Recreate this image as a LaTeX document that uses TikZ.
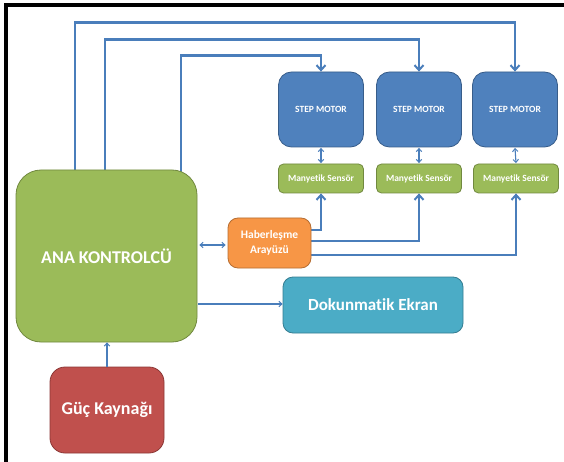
\documentclass[tikz,border=0pt]{standalone}
\usepackage{fontspec}
\setmainfont{Carlito}[Ligatures=NoCommon]
\usetikzlibrary{arrows.meta,backgrounds}
\definecolor{mblue}{HTML}{4F81BD}
\definecolor{mblueD}{HTML}{385D8A}
\definecolor{mgreen}{HTML}{9BBB59}
\definecolor{mgreenD}{HTML}{71893F}
\definecolor{morange}{HTML}{F79646}
\definecolor{morangeD}{HTML}{B66D31}
\definecolor{mteal}{HTML}{4BACC6}
\definecolor{mtealD}{HTML}{357D91}
\definecolor{mred}{HTML}{C0504D}
\definecolor{mredD}{HTML}{8C3836}
\definecolor{lineblue}{HTML}{4A7EBB}
\tikzset{
  boxbase/.style={text=white, font=\bfseries, align=center, inner sep=0pt, line width=0.8pt},
  motorbox/.style={boxbase, fill=mblue, draw=mblueD, minimum width=85pt, minimum height=75pt, rounded corners=13pt, font=\bfseries\fontsize{9.5}{11}\selectfont},
  sensorbox/.style={boxbase, fill=mgreen, draw=mgreenD, minimum width=85pt, minimum height=29pt, rounded corners=5pt, font=\bfseries\fontsize{9.5}{11}\selectfont},
  mainbox/.style={boxbase, fill=mgreen, draw=mgreenD, minimum width=181pt, minimum height=172pt, rounded corners=25pt, font=\bfseries\fontsize{18}{21}\selectfont},
  commbox/.style={boxbase, fill=morange, draw=morangeD, minimum width=83pt, minimum height=50pt, rounded corners=10pt, font=\bfseries\fontsize{11.5}{15}\selectfont},
  screenbox/.style={boxbase, fill=mteal, draw=mtealD, minimum width=180pt, minimum height=56pt, rounded corners=10pt, font=\bfseries\fontsize{17}{20}\selectfont},
  powerbox/.style={boxbase, fill=mred, draw=mredD, minimum width=114pt, minimum height=86pt, rounded corners=15pt, font=\bfseries\fontsize{18}{21}\selectfont},
  thickconn/.style={draw=lineblue, line width=2.3pt, -{Straight Barb[length=5pt,width=9pt,line width=2pt]}},
  thinconn/.style={draw=lineblue, line width=1.1pt},
  thintip/.style={thinconn, -{Straight Barb[length=3pt,width=5.5pt,line width=1pt]}},
  thinboth/.style={thinconn, {Straight Barb[length=3pt,width=5.5pt,line width=1pt]}-{Straight Barb[length=3pt,width=5.5pt,line width=1pt]}},
}
\begin{document}
\begin{tikzpicture}[x=1pt,y=-1pt]
\useasboundingbox (0,0) rectangle (564,462);

% nodes
\node[motorbox] (m1) at (321,109.5) {STEP MOTOR};
\node[motorbox] (m2) at (419,109.5) {STEP MOTOR};
\node[motorbox] (m3) at (515,109.5) {STEP MOTOR};
\node[sensorbox] (s1) at (321,178.5) {Manyetik Sensör};
\node[sensorbox] (s2) at (419,178.5) {Manyetik Sensör};
\node[sensorbox] (s3) at (516,178.5) {Manyetik Sensör};
\node[mainbox] (ana) at (106.5,256) {ANA KONTROLCÜ};
\node[commbox] (hab) at (269.5,243) {Haberleşme\\Arayüzü};
\node[screenbox] (dok) at (373,305) {Dokunmatik Ekran};
\node[powerbox] (guc) at (107,410) {Güç Kaynağı};

\begin{scope}[on background layer]
\fill[white] (0,0) rectangle (564,462);
\draw[black, line width=4pt] (6,462) -- (6,5) -- (564,5);
% controller to motors
\draw[thickconn] ([xshift=-31.5pt,yshift=-5pt]ana.north) -- ++(0,-152) -| (m3.north);
\draw[thickconn] ([xshift=-1.5pt,yshift=-5pt]ana.north) -- ++(0,-135) -| (m2.north);
\draw[thickconn] ([xshift=74.5pt,yshift=-5pt]ana.north) -- ++(0,-119) -| (m1.north);
% comm interface to sensors
\draw[thickconn] ([yshift=13pt]hab.east) -| (s1.south);
\draw[thickconn] ([yshift=2pt]hab.east) -| (s2.south);
\draw[thickconn] ([yshift=-12pt]hab.east) -| (s3.south);
\end{scope}

% thin connectors
\draw[thinboth] ([xshift=-2pt,yshift=-2pt]hab.west) -- ([xshift=2pt,yshift=-2pt]hab.west -| ana.east);
\draw[thintip] ([xshift=1pt,yshift=1pt]dok.west -| ana.east) -- ([yshift=1pt]dok.west);
\draw[thintip] (guc.north) -- (guc.north |- ana.south);
\draw[thinboth] ([yshift=-0.5pt]m1.south) -- ([yshift=0.5pt]s1.north);
\draw[thinboth] ([yshift=-0.5pt]m2.south) -- ([yshift=0.5pt]s2.north);
\draw[thinboth] ([yshift=-0.5pt]m3.south) -- ([yshift=0.5pt]s3.north);
\end{tikzpicture}
\end{document}
